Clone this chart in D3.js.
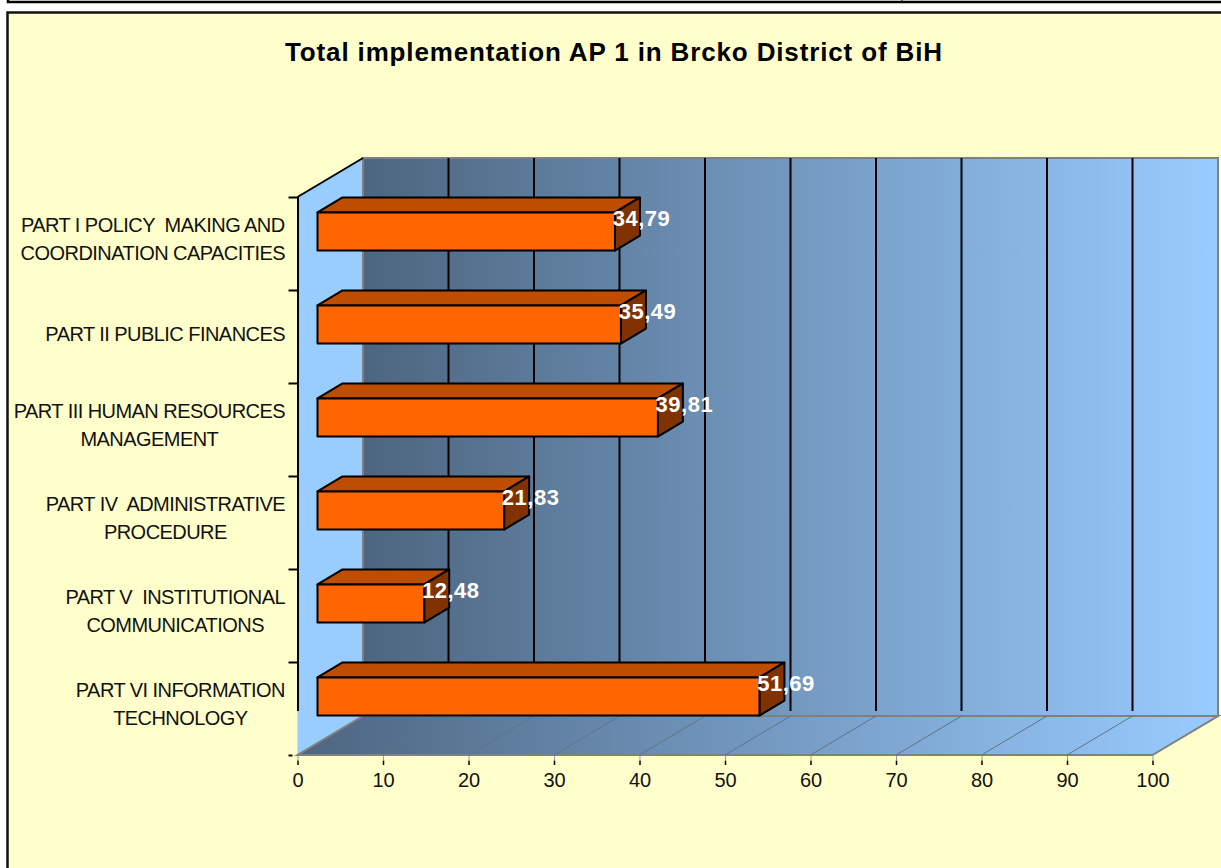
<!DOCTYPE html>
<html>
<head>
<meta charset="utf-8">
<script src="https://cdn.jsdelivr.net/npm/d3@7"></script>
<style>
  html, body { margin: 0; padding: 0; background: #fff; }
  svg { display: block; }
  text { font-family: "Liberation Sans", Arial, sans-serif; fill: #111; white-space: pre; }
</style>
</head>
<body>
<svg id="chart" width="1221" height="868"></svg>
<script>
var title = "Total implementation AP 1 in Brcko District of BiH";
var categories = [
  ["PART I POLICY  MAKING AND", "COORDINATION CAPACITIES"],
  ["PART II PUBLIC FINANCES"],
  ["PART III HUMAN RESOURCES", "MANAGEMENT"],
  ["PART IV  ADMINISTRATIVE", "PROCEDURE"],
  ["PART V  INSTITUTIONAL", "COMMUNICATIONS"],
  ["PART VI INFORMATION", "TECHNOLOGY"]
];
var values = [34.79, 35.49, 39.81, 21.83, 12.48, 51.69];
var xTicks = [0, 10, 20, 30, 40, 50, 60, 70, 80, 90, 100];

var svg = d3.select("#chart");

// front plane of the 3d box, back wall is the same thing shifted by depth
var plot = {left: 297.5, right: 1152.5, top: 197, bottom: 755},
    depth = {x: 65.5, y: -39},
    barFront = {x: 20, y: -12},
    barBack = {x: 45, y: -27};

var x = d3.scaleLinear().domain([0, 100]).range([plot.left, plot.right]);
var y = d3.scaleBand()
    .domain(d3.range(categories.length))
    .range([plot.top, plot.bottom])
    .paddingInner(0.59)
    .paddingOuter(0.295);
var yEdge = d3.scaleLinear().domain([0, categories.length]).range([plot.top, plot.bottom]);

function poly(pts) { return "M" + pts.map(function(p) { return p.join(","); }).join("L") + "Z"; }

// page frames
svg.append("rect").attr("x", 8).attr("y", -3).attr("width", 1230).attr("height", 5)
    .attr("fill", "#fff").attr("stroke", "#000").attr("stroke-width", 2.5);
svg.append("line").attr("x1", 902).attr("x2", 902).attr("y1", 0).attr("y2", 2).attr("stroke", "#000");
svg.append("rect").attr("x", 7.5).attr("y", 12.5).attr("width", 1230).attr("height", 870)
    .attr("fill", "#ffffcc").attr("stroke", "#111").attr("stroke-width", 2.5);

var defs = svg.append("defs");
function wallGradient(id, x1, x2) {
  var g = defs.append("linearGradient").attr("id", id)
      .attr("gradientUnits", "userSpaceOnUse")
      .attr("x1", x1).attr("x2", x2).attr("y1", 0).attr("y2", 0);
  g.append("stop").attr("offset", 0).attr("stop-color", "#4d6580");
  g.append("stop").attr("offset", 1).attr("stop-color", "#99ccff");
}
wallGradient("wallFill", plot.left + depth.x, plot.right + depth.x);
wallGradient("floorFill", plot.left, plot.right + depth.x);

svg.append("text").attr("x", 613.5).attr("y", 61)
    .attr("text-anchor", "middle")
    .attr("font-size", 26).attr("font-weight", "bold")
    .attr("textLength", 657).attr("lengthAdjust", "spacing")
    .style("fill", "#000")
    .text(title);

// left wall
svg.append("path")
    .attr("d", poly([[plot.left, plot.top], [plot.left + depth.x, plot.top + depth.y],
      [plot.left + depth.x, plot.bottom + depth.y], [plot.left, plot.bottom]]))
    .attr("fill", "#99ccff");

// back wall
svg.append("path")
    .attr("d", poly([[plot.left + depth.x, plot.top + depth.y], [plot.right + depth.x, plot.top + depth.y],
      [plot.right + depth.x, plot.bottom + depth.y], [plot.left + depth.x, plot.bottom + depth.y]]))
    .attr("fill", "url(#wallFill)")
    .attr("stroke", "#808080").attr("stroke-width", 2);

// floor
svg.append("path")
    .attr("d", poly([[plot.left, plot.bottom], [plot.right, plot.bottom],
      [plot.right + depth.x, plot.bottom + depth.y], [plot.left + depth.x, plot.bottom + depth.y]]))
    .attr("fill", "url(#floorFill)")
    .attr("stroke", "#808080").attr("stroke-width", 2);

// gridlines on back wall and floor
var inner = xTicks.slice(1, -1);
svg.append("g").selectAll("line").data(inner).join("line")
    .attr("x1", function(d) { return x(d) + depth.x; })
    .attr("x2", function(d) { return x(d) + depth.x; })
    .attr("y1", plot.top + depth.y)
    .attr("y2", plot.bottom + depth.y - 5)
    .attr("stroke", "#000").attr("stroke-width", 2);
svg.append("g").selectAll("line").data(inner).join("line")
    .attr("x1", function(d) { return x(d); })
    .attr("x2", function(d) { return x(d) + depth.x; })
    .attr("y1", plot.bottom)
    .attr("y2", plot.bottom + depth.y)
    .attr("stroke", "#5f7388").attr("stroke-width", 1);

// category axis, ticks sit on the band edges
var yAxis = d3.axisLeft(yEdge).tickValues(d3.range(categories.length + 1)).tickSize(9).tickFormat("");
var yAxisG = svg.append("g").attr("transform", "translate(" + plot.left + ",0)").call(yAxis);
yAxisG.select(".domain").remove();
yAxisG.selectAll("line").attr("stroke", "#000").attr("stroke-width", 2);
yAxisG.selectAll(".tick").filter(function(d) { return d === categories.length; }).select("line")
    .attr("x1", -5).attr("x2", -9);
svg.append("line")
    .attr("x1", plot.left + 0.5).attr("x2", plot.left + 0.5)
    .attr("y1", plot.top).attr("y2", plot.bottom + depth.y - 5)
    .attr("stroke", "#000").attr("stroke-width", 2);
svg.append("line")
    .attr("x1", plot.left).attr("x2", plot.left + depth.x)
    .attr("y1", plot.top).attr("y2", plot.top + depth.y)
    .attr("stroke", "#000").attr("stroke-width", 2);

// value axis
var xAxis = d3.axisBottom(x).tickValues(xTicks).tickSize(0).tickPadding(18);
var xAxisG = svg.append("g").attr("transform", "translate(0," + plot.bottom + ")").call(xAxis);
xAxisG.select(".domain").remove();
xAxisG.selectAll("line").remove();
xAxisG.selectAll("text").attr("font-size", 20).attr("font-family", null).style("fill", "#111");
xAxisG.selectAll(".tick").append("line")
    .attr("y1", 1).attr("y2", 5).attr("stroke", "#999");
xAxisG.selectAll(".tick").append("line")
    .attr("y1", 5.5).attr("y2", 10).attr("stroke", "#000").attr("stroke-width", 1.5);

// category labels, centred under the widest line, right edge at 285
var labels = svg.append("g").selectAll("text").data(categories).join("text")
    .attr("text-anchor", "middle")
    .attr("font-size", 20)
    .attr("letter-spacing", -0.55);
labels.each(function(lines, i) {
  var el = d3.select(this),
      mid = yEdge(i + 0.5);
  var spans = el.selectAll("tspan").data(lines).join("tspan")
      .text(function(d) { return d; });
  var maxW = 0;
  spans.each(function() { maxW = Math.max(maxW, this.getComputedTextLength()); });
  var cx = 285 - maxW / 2,
      y0 = lines.length > 1 ? mid - 12 : mid + 4;
  spans.attr("x", cx).attr("y", function(d, j) { return y0 + j * 28; });
});

// bars
var bars = svg.append("g").selectAll("g").data(values).join("g");
function barY(i) { return y(i) + barFront.y; }
var dx = barBack.x - barFront.x, dy = barBack.y - barFront.y;

bars.append("path")
    .attr("d", function(d, i) {
      var l = x(0) + barFront.x, r = x(d) + barFront.x, t = barY(i);
      return poly([[l, t], [r, t], [r + dx, t + dy], [l + dx, t + dy]]);
    })
    .attr("fill", "#bf4d00");
bars.append("path")
    .attr("d", function(d, i) {
      var r = x(d) + barFront.x, t = barY(i), b = t + y.bandwidth();
      return poly([[r, t], [r + dx, t + dy], [r + dx, b + dy], [r, b]]);
    })
    .attr("fill", "#803300");
bars.append("rect")
    .attr("x", x(0) + barFront.x)
    .attr("y", function(d, i) { return barY(i); })
    .attr("width", function(d) { return x(d) - x(0); })
    .attr("height", y.bandwidth())
    .attr("fill", "#ff6600");
bars.selectAll("path, rect")
    .attr("stroke", "#000").attr("stroke-width", 2).attr("stroke-linejoin", "round");

bars.append("text")
    .attr("x", function(d) { return x(d) + barBack.x + 1.5; })
    .attr("y", function(d, i) { return barY(i) + 14; })
    .attr("text-anchor", "middle")
    .attr("font-size", 22).attr("font-weight", "bold")
    .attr("letter-spacing", 0.5)
    .style("fill", "#fff")
    .text(function(d) { return d3.format(".2f")(d).replace(".", ","); });
</script>
</body>
</html>
